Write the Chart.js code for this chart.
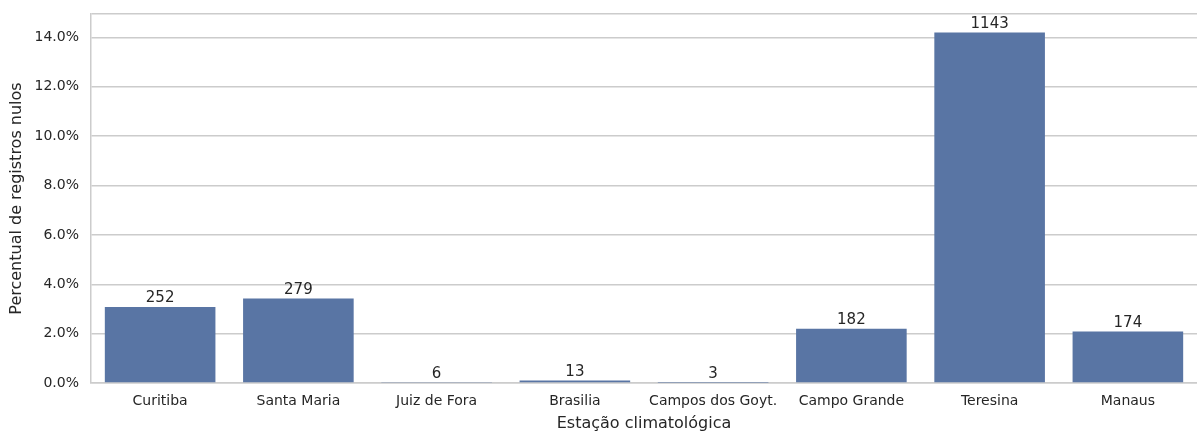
<!DOCTYPE html>
<html>
<head>
<meta charset="utf-8">
<script src="https://cdn.jsdelivr.net/npm/chart.js@4.4.0/dist/chart.umd.min.js"></script>
<style>
  html, body { margin: 0; padding: 0; background: #ffffff; }
  #wrap { width: 1197px; height: 432px; position: relative; }
</style>
</head>
<body>
<div id="wrap"><canvas id="c" width="1197" height="432"></canvas></div>
<script>
const stations = ["Curitiba", "Santa Maria", "Juiz de Fora", "Brasilia", "Campos dos Goyt.", "Campo Grande", "Teresina", "Manaus"];
const nullPercent = [3.08, 3.42, 0.02, 0.10, 0.01, 2.20, 14.20, 2.09];
const nullCounts = [252, 279, 6, 13, 3, 182, 1143, 174];
const yTicks = [0, 2, 4, 6, 8, 10, 12, 14];
const yMax = 14.95;

const textColor = "#262626";
const gridColor = "#cccccc";
const FONT = "'DejaVu Sans', sans-serif";

const barLabels = {
  id: "barLabels",
  afterDatasetsDraw(chart) {
    const ctx = chart.ctx;
    const meta = chart.getDatasetMeta(0);
    ctx.save();
    ctx.font = "15px " + FONT;
    ctx.fillStyle = textColor;
    ctx.textAlign = "center";
    ctx.textBaseline = "bottom";
    meta.data.forEach((bar, i) => {
      ctx.fillText(String(nullCounts[i]), bar.x, bar.y - 1);
    });
    ctx.restore();
  }
};

new Chart(document.getElementById("c"), {
  type: "bar",
  data: {
    labels: stations,
    datasets: [{
      data: nullPercent,
      backgroundColor: "#5975a4",
      borderWidth: 0,
      categoryPercentage: 1.0,
      barPercentage: 0.8
    }]
  },
  options: {
    responsive: false,
    animation: false,
    devicePixelRatio: 1,
    layout: { padding: { top: 14, right: 0, left: 0, bottom: 0 } },
    plugins: { legend: { display: false }, tooltip: { enabled: false } },
    scales: {
      x: {
        grid: { display: false, drawTicks: false },
        border: { display: true, color: gridColor, width: 1.5 },
        ticks: { color: textColor, font: { family: FONT, size: 14 }, padding: 10, maxRotation: 0, autoSkip: false },
        title: { display: true, text: "Estação climatológica", color: textColor, font: { family: FONT, size: 16, lineHeight: 1.0 }, padding: { top: 0, bottom: 0 } },
        afterFit(scale) { scale.height = 49; scale.paddingLeft = 0; scale.paddingRight = 0; }
      },
      y: {
        min: 0,
        max: yMax,
        grid: { color: gridColor, lineWidth: 1.5, drawTicks: false },
        border: { display: true, color: gridColor, width: 1.5 },
        ticks: {
          stepSize: 2,
          color: textColor,
          font: { family: FONT, size: 14 },
          padding: 12,
          callback(v) { return yTicks.includes(v) ? v.toFixed(1) + "%" : ""; }
        },
        title: { display: true, text: "Percentual de registros nulos", color: textColor, font: { family: FONT, size: 16, lineHeight: 1.0 }, padding: { top: 9, bottom: 0 } },
        afterFit(scale) { scale.width = 91; scale.paddingTop = 0; scale.paddingBottom = 0; }
      }
    }
  },
  plugins: [barLabels]
});
</script>
</body>
</html>
